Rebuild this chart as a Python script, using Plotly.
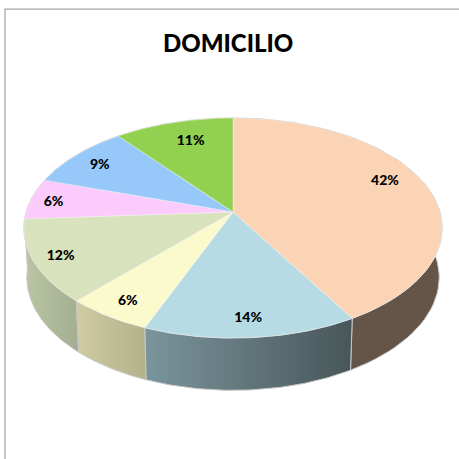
import numpy as np
import plotly.graph_objects as go

title = "DOMICILIO"
values = [41.6, 14.4, 5.8, 12.2, 6.0, 9.4, 10.6]
top_colors = ["#FBD3B5", "#B7DBE5", "#FBFACC", "#D8E2BC", "#FBCBFB", "#97C8FA", "#92D050"]
side_left = ["#655548", "#7A959C", "#CFCCA2", "#B9C5A2", "#B9C5A2", "#7A9ABF", "#6F9E3E"]
side_right = ["#655548", "#475659", "#B3B18A", "#A4AE92", "#B9C5A2", "#6A8AAF", "#5F8E2E"]
label_radius = [0.84, 0.83, 0.84, 0.865, 0.89, 0.85, 0.80]
label_along = [0.45, 0.50, 0.50, 0.50, 0.50, 0.50, 0.556]

# projection of the pie disc in page pixels
CX, CY, A, B, K = 233.0, 212.0, 207.0, 107.7, 0.1455
DEPTH, A2, B2, CX2 = 49.0, 204.0, 110.5, 233.0
LABEL_DY = 2.0


def rim(theta, cx=CX, cy=CY, a=A, b=B):
    X, Y = np.sin(theta), np.cos(theta)
    w = 1 + K * Y
    return cx + a * X / w, cy - b * Y / w


shares = np.array(values, dtype=float) / sum(values)
edges = np.concatenate([[0.0], np.cumsum(shares)]) * 2 * np.pi

fig = go.Figure()

# sides, back slices first: the top face covers whatever lies behind it
for i in [6, 5, 4, 0, 3, 2, 1]:
    th = np.linspace(edges[i], edges[i + 1], 60)
    tx, ty = rim(th)
    bx, by = rim(th, CX2, CY + DEPTH, A2, B2)
    xs = np.concatenate([tx, bx[::-1], tx[:1]])
    ys = np.concatenate([ty, by[::-1], ty[:1]])
    # colours run left to right on screen
    start, stop = float(xs.min()), float(xs.max())
    fig.add_trace(go.Scatter(
        x=xs, y=ys, mode="lines", line=dict(color="#C9C9C9", width=1),
        fill="toself",
        fillgradient=dict(type="horizontal", start=start, stop=stop,
                          colorscale=[[0, side_left[i]], [1, side_right[i]]]),
        hoverinfo="skip", showlegend=False))

# top face
for i in range(len(values)):
    th = np.linspace(edges[i], edges[i + 1], 90)
    rx, ry = rim(th)
    xs = np.concatenate([[CX], rx, [CX]])
    ys = np.concatenate([[CY], ry, [CY]])
    fig.add_trace(go.Scatter(
        x=xs, y=ys, mode="lines", line=dict(color="#F2F2F2", width=0.5),
        fill="toself", fillcolor=top_colors[i],
        hoverinfo="skip", showlegend=False))

# percentage labels
mids = edges[:-1] + (edges[1:] - edges[:-1]) * np.array(label_along)
mx, my = rim(mids)
lx = CX + (mx - CX) * np.array(label_radius)
ly = CY + (my - CY) * np.array(label_radius) + LABEL_DY
fig.add_trace(go.Scatter(
    x=lx, y=ly, mode="text",
    text=[f"{round(v)}%" for v in values], textposition="middle center",
    textfont=dict(family="Lato", size=14, color="#000000", weight=900),
    hoverinfo="skip", showlegend=False))

fig.add_annotation(x=228, y=42, xref="x", yref="y", text=title, showarrow=False,
                   font=dict(family="Lato", size=24, color="#000000", weight=900))

# chart frame, running off the right and bottom of the page
fig.add_shape(type="rect", x0=5, y0=9, x1=480, y1=480,
              line=dict(color="#A6A6A6", width=1.25), fillcolor="rgba(0,0,0,0)", layer="below")

fig.update_layout(
    width=459, height=459, margin=dict(l=0, r=0, t=0, b=0),
    paper_bgcolor="#FFFFFF", plot_bgcolor="#FFFFFF", showlegend=False,
    xaxis=dict(range=[0, 459], visible=False, fixedrange=True),
    yaxis=dict(range=[459, 0], visible=False, fixedrange=True),
)
fig.write_html("out.html", config={"displayModeBar": False},
               post_script="document.body.style.margin='0';document.body.style.overflow='hidden';")
